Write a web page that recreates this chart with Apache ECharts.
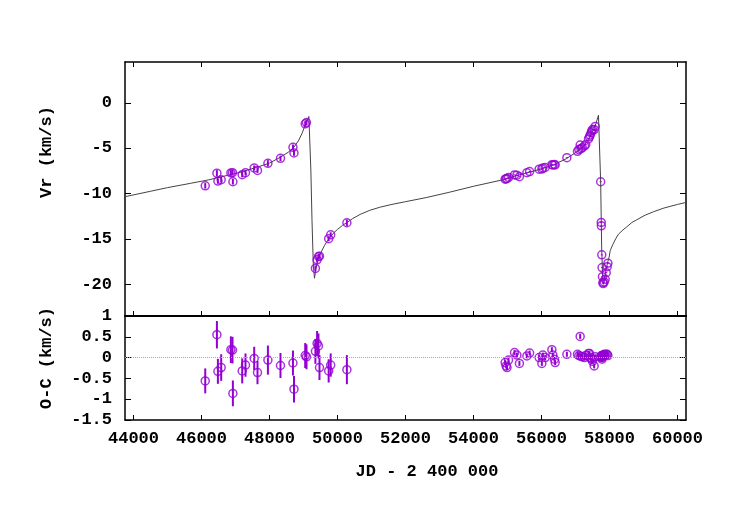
<!DOCTYPE html>
<html>
<head>
<meta charset="utf-8">
<script src="https://cdn.jsdelivr.net/npm/echarts@6/dist/echarts.min.js"></script>
<style>
  html, body { margin: 0; padding: 0; background: #fff; }
  #chart { width: 750px; height: 525px; }
</style>
</head>
<body>
<div id="chart"></div>
<script>
// observations: JD - 2400000, radial velocity, O-C residual, error
const jd = [46110, 46453, 46482, 46579, 46864, 46912, 46923, 47197, 47294, 47550, 47647, 47953, 48323, 48690, 48720, 49050, 49088,
  49350, 49400, 49440, 49470, 49740, 49800, 50276,
  54930, 54960, 54985, 55030, 55206, 55276, 55350, 55570, 55650, 55930, 56010, 56040, 56108, 56305, 56335, 56382, 56402,
  56746, 57058, 57100, 57137, 57160, 57200, 57265, 57300, 57382, 57411, 57432, 57460, 57480, 57500, 57549, 57580,
  57740, 57757, 57759, 57773, 57782, 57792, 57806, 57816, 57845, 57873, 57903, 57932, 57952];
const vr = [-9.15, -7.75, -8.62, -8.48, -7.73, -7.70, -8.70, -7.92, -7.70, -7.18, -7.45, -6.67, -6.12, -4.90, -5.52, -2.32, -2.18,
  -18.25, -17.31, -16.95, -16.90, -14.98, -14.55, -13.22,
  -8.42, -8.38, -8.33, -8.22, -7.95, -7.98, -8.15, -7.70, -7.58, -7.32, -7.30, -7.18, -7.12, -6.82, -6.85, -6.80, -6.85,
  -6.05, -5.35, -5.15, -4.65, -5.05, -4.95, -4.75, -4.60, -3.98, -3.75, -3.55, -3.30, -3.10, -2.95, -2.95, -2.60,
  -8.70, -13.19, -13.56, -16.76, -18.16, -19.16, -19.82, -19.93, -19.75, -19.45, -18.72, -18.06, -17.68];
const oc = [-0.56, 0.55, -0.33, -0.24, 0.19, 0.18, -0.86, -0.32, -0.18, -0.02, -0.36, -0.06, -0.19, -0.13, -0.76, 0.05, 0.02,
  0.15, 0.34, 0.28, -0.24, -0.32, -0.18, -0.29,
  -0.12, -0.20, -0.24, -0.06, 0.12, 0.06, -0.14, 0.04, 0.11, 0.00, -0.14, 0.06, 0.00, 0.19, 0.06, -0.04, -0.12,
  0.08, 0.08, 0.05, 0.51, 0.03, 0.02, 0.00, 0.05, 0.10, 0.10, 0.00, -0.02, -0.04, -0.09, -0.20, 0.02,
  0.02, 0.05, 0.00, 0.04, -0.04, 0.00, 0.04, 0.06, 0.08, 0.06, 0.08, 0.08, 0.05];
const err = [0.30, 0.33, 0.30, 0.32, 0.32, 0.32, 0.31, 0.30, 0.28, 0.28, 0.28, 0.35, 0.30, 0.30, 0.32, 0.30, 0.30,
  0.30, 0.30, 0.30, 0.30, 0.28, 0.28, 0.35,
  0.06, 0.06, 0.06, 0.06, 0.06, 0.06, 0.06, 0.06, 0.06, 0.06, 0.06, 0.06, 0.06, 0.06, 0.06, 0.06, 0.06,
  0.06, 0.06, 0.06, 0.06, 0.06, 0.06, 0.06, 0.06, 0.06, 0.06, 0.06, 0.06, 0.06, 0.06, 0.06, 0.06,
  0.06, 0.06, 0.06, 0.06, 0.06, 0.06, 0.06, 0.06, 0.06, 0.06, 0.06, 0.06, 0.06];

// orbit model curve
const modelJd = [43750, 44500, 45000, 45670, 46200, 46650, 47100, 47630, 48000, 48315, 48550, 48706, 48850, 48953, 49050, 49110, 49158,
  49217, 49250, 49290, 49323, 49360, 49420, 49500, 49620, 49750, 49900, 50000, 50150, 50276, 50450, 50667, 50950, 51255, 51600,
  52000, 52629, 53300, 54000, 54882,
  55200, 55600, 56000, 56350, 56735, 57060, 57250, 57400, 57500, 57600, 57676, 57740, 57770, 57800, 57824,
  57850, 57900, 57950, 57990, 58020, 58100, 58180, 58264, 58400, 58500, 58658, 58800, 59050, 59300, 59600, 60000, 60250];
const modelVr = [-10.35, -9.75, -9.35, -8.88, -8.5, -8.1, -7.7, -7.1, -6.65, -6.0, -5.45, -4.95, -4.2, -3.4, -2.45, -1.95, -1.5,
  -7.5, -13.0, -18.0, -19.34, -18.4, -17.4, -16.6, -15.7, -14.95, -14.3, -13.95, -13.5, -13.2, -12.75, -12.3, -11.85, -11.5, -11.2,
  -10.9, -10.43, -9.85, -9.2, -8.47,
  -8.1, -7.7, -7.28, -6.85, -6.15, -5.35, -4.7, -4.0, -3.2, -2.3, -1.37, -8.7, -16.0, -19.4, -20.0,
  -19.4, -18.4, -17.5, -17.0, -16.3, -15.6, -15.0, -14.48, -14.0, -13.7, -13.19, -12.9, -12.38, -12.0, -11.6, -11.2, -10.98];

const xTicks = [44000, 46000, 48000, 50000, 52000, 54000, 56000, 58000, 60000];
const vrTicks = [-20, -15, -10, -5, 0];
const ocTicks = [-1.5, -1, -0.5, 0, 0.5, 1];

const violet = '#9400D3';
const mono = 'Liberation Mono';
const fontPx = 17;
const weight = 'bold';

const vrPts = jd.map((x, i) => [x, vr[i], err[i]]);
const ocPts = jd.map((x, i) => [x, oc[i], err[i]]);
const modelPts = modelJd.map((x, i) => [x, modelVr[i]]);

const errBar = (params, api) => {
    const x = api.value(0), y = api.value(1), e = api.value(2);
    const a = api.coord([x, y - e]);
    const b = api.coord([x, y + e]);
    return {
        type: 'line',
        shape: { x1: a[0], y1: a[1], x2: b[0], y2: b[1] },
        style: { stroke: violet, lineWidth: 2 }
    };
};

const labelStyle = { color: '#000', fontFamily: mono, fontSize: fontPx, fontWeight: weight };

const xBase = (grid, pos, labels) => ({
    type: 'value', gridIndex: grid, position: pos, min: 43750, max: 60250,
    axisLine: { show: true, onZero: false, lineStyle: { color: '#000', width: pos === 'bottom' && grid === 0 ? 2 : 1.5 } },
    axisTick: { show: true, inside: true, length: 5, customValues: xTicks, lineStyle: { color: '#000', width: 1 } },
    axisLabel: Object.assign({ show: labels, customValues: xTicks, margin: 10, formatter: v => String(v) }, labelStyle),
    splitLine: { show: false }
});
const yBase = (grid, pos, min, max, ticks, labels) => ({
    type: 'value', gridIndex: grid, position: pos, min: min, max: max,
    axisLine: { show: true, onZero: false, lineStyle: { color: '#000', width: 1.5 } },
    axisTick: { show: true, inside: true, length: 6, customValues: ticks, lineStyle: { color: '#000', width: 1 } },
    axisLabel: Object.assign({ show: labels, customValues: ticks, margin: 13, formatter: v => String(v) }, labelStyle),
    splitLine: { show: false }
});

const titleFont = weight + ' ' + fontPx + 'px "' + mono + '"';

const chart = echarts.init(document.getElementById('chart'), null, { renderer: 'canvas' });
chart.setOption({
    backgroundColor: '#fff',
    animation: false,
    grid: [
        { left: 125, top: 62, width: 561, height: 254 },
        { left: 125, top: 316, width: 561, height: 104 }
    ],
    xAxis: [
        xBase(0, 'bottom', false),
        xBase(0, 'top', false),
        xBase(1, 'bottom', true)
    ],
    yAxis: [
        yBase(0, 'left', -23.5, 4.5, vrTicks, true),
        yBase(0, 'right', -23.5, 4.5, vrTicks, false),
        yBase(1, 'left', -1.5, 1, ocTicks, true),
        yBase(1, 'right', -1.5, 1, ocTicks, false)
    ],
    graphic: [
        { type: 'text', x: 47, y: 152, rotation: Math.PI / 2,
          style: { text: 'Vr (km/s)', font: titleFont, fill: '#000', textAlign: 'center', textVerticalAlign: 'middle' } },
        { type: 'text', x: 47, y: 358, rotation: Math.PI / 2,
          style: { text: 'O-C (km/s)', font: titleFont, fill: '#000', textAlign: 'center', textVerticalAlign: 'middle' } },
        { type: 'text', x: 427, y: 472,
          style: { text: 'JD - 2 400 000', font: titleFont, fill: '#000', textAlign: 'center', textVerticalAlign: 'middle' } }
    ],
    series: [
        {
            type: 'line', xAxisIndex: 0, yAxisIndex: 0, data: modelPts,
            showSymbol: false, lineStyle: { color: '#444', width: 1 }, z: 1, clip: true
        },
        {
            type: 'custom', xAxisIndex: 0, yAxisIndex: 0, data: vrPts,
            renderItem: errBar, z: 3
        },
        {
            type: 'scatter', xAxisIndex: 0, yAxisIndex: 0, data: vrPts,
            symbol: 'circle', symbolSize: 8,
            itemStyle: { color: 'rgba(0,0,0,0)', borderColor: violet, borderWidth: 1.5 }, z: 4
        },
        {
            type: 'custom', xAxisIndex: 2, yAxisIndex: 2, data: ocPts,
            renderItem: errBar, z: 3,
            markLine: {
                silent: true, symbol: 'none', label: { show: false },
                lineStyle: { color: '#aaa', type: 'dotted', width: 1 },
                data: [{ yAxis: 0 }]
            }
        },
        {
            type: 'scatter', xAxisIndex: 2, yAxisIndex: 2, data: ocPts,
            symbol: 'circle', symbolSize: 8,
            itemStyle: { color: 'rgba(0,0,0,0)', borderColor: violet, borderWidth: 1.5 }, z: 4
        }
    ]
});
</script>
</body>
</html>
